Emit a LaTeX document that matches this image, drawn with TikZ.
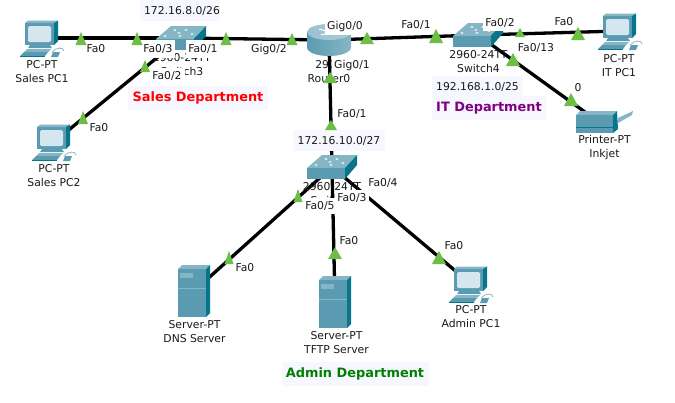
\documentclass[tikz,border=0pt]{standalone}
\usepackage{fontspec}
\setmainfont{DejaVu Sans}
\definecolor{cfront}{HTML}{5B9BB1}
\definecolor{ctop}{HTML}{86B6C6}
\definecolor{cside}{HTML}{07758C}
\definecolor{cscreen}{HTML}{D6E6EE}
\definecolor{cgreen}{HTML}{6DBE45}
\definecolor{cbox}{HTML}{F7F8FF}
\definecolor{citp}{HTML}{800080}
\definecolor{cadm}{HTML}{008000}
\definecolor{crtop}{HTML}{A9CBD7}
\definecolor{crmid}{HTML}{E6F0F4}
\tikzset{
  x=1pt,y=-1pt,
  link/.style={line width=3.3pt,black},
  devlabel/.style={font=\fontsize{10.8}{14}\selectfont,align=center,inner sep=0pt,text=black!90},
  portlabel/.style={font=\fontsize{10.8}{13}\selectfont,fill=white,inner xsep=2pt,inner ysep=0pt,minimum height=15.5pt,text=black!90},
  netlabel/.style={font=\fontsize{10.8}{13}\selectfont,text=black!90},
  deptlabel/.style={font=\bfseries\fontsize{12.9}{14}\selectfont},
  boxfill/.style={fill=cbox,draw=none},
  pcicon/.pic={
    \fill[ctop] (-17,-15)--(-14,-17.5)--(16,-17.5)--(12,-15)--cycle;
    \fill[cside] (12,-15)--(16,-17.5)--(16,3)--(12,7)--cycle;
    \fill[cfront] (-17,-15) rectangle (12,7);
    \fill[cscreen,rounded corners=1.5pt] (-14,-12) rectangle (9,4);
    \fill[cfront] (-12,7)--(8,7)--(10,10)--(-14,10)--cycle;
    \fill[ctop] (-15,11)--(9,11)--(6,14)--(-18,14)--cycle;
    \fill[cfront] (-18,14)--(6,14)--(3,18)--(-22,18)--cycle;
    \fill[cside] (-22,18) rectangle (3,19);
    \draw[ctop,line width=.8pt] (10,14) .. controls (14,9) and (22,9) .. (22,13);
    \fill[cfront] (11,14)--(18,14)--(16,19)--(9,19)--cycle;
  },
  servericon/.pic={
    \fill[ctop] (-16,-22)--(-12,-26)--(16,-26)--(12,-22)--cycle;
    \fill[cside] (12,-22)--(16,-26)--(16,22)--(12,26)--cycle;
    \fill[cfront] (-16,-22) rectangle (12,26);
    \fill[ctop] (-14,-18) rectangle (-1,-13);
    \draw[ctop,line width=.6pt] (-16,-3)--(12,-3);
  },
  printericon/.pic={
    \fill[ctop] (-27,-10)--(-23,-14)--(14,-14)--(10,-10)--cycle;
    \fill[cfront] (-27,-10) rectangle (10,8);
    \fill[cside] (10,-10)--(14,-14)--(15,4)--(10,8)--cycle;
    \fill[ctop] (15,-7)--(30,-14)--(29,-10)--(15,-2)--cycle;
    \draw[cside,line width=.5pt] (-27,2)--(10,2);
  },
  switchicon/.pic={
    \fill[ctop] (-25,1)--(-10,-12)--(25,-12)--(13,1)--cycle;
    \fill[cside] (13,1)--(25,-12)--(25,-2)--(13,12)--cycle;
    \fill[cfront] (-25,1) rectangle (13,12);
    \foreach \a/\b in {-16/-2,-6/-8,-1/-2,5/-8,11/-4,-2/-5}{\fill[white] (\a,\b) ellipse (1.6 and .8);}
  },
  routericon/.pic={
    \shade[left color=cfront,middle color=crmid,right color=ctop] (-22,-8) -- (-22,7) .. controls (-22,19) and (22,19) .. (22,7) -- (22,-8) -- cycle;
    \shade[left color=crtop!80!cfront,right color=crtop] (0,-8) ellipse (22 and 8);
    \draw[white,line width=1pt] (-10,-11)--(-3,-9) (-8,-5)--(0,-7) (3,-9)--(10,-11);
  }
}
\newcommand\porttri[4]{\fill[cgreen] (#1,#2)--(#1+#4/2,#3)--(#1-#4/2,#3)--cycle;}
\begin{document}
\begin{tikzpicture}
\useasboundingbox (0,0) rectangle (675,402);
% anchor points of the devices
\coordinate (pcA) at (42,38);
\coordinate (pcB) at (54,142);
\coordinate (swS) at (181,38);
\coordinate (rtr) at (329,40);
\coordinate (swI) at (478,35);
\coordinate (pcI) at (620,31);
\coordinate (prn) at (603,125);
\coordinate (swA) at (332,167);
\coordinate (srvD) at (194,291);
\coordinate (srvT) at (335,302);
\coordinate (pcD) at (471,284);
% connectors
\draw[link] (pcA)--(swS);
\draw[link] (pcB)--(swS);
\draw[link] (swS)--(rtr);
\draw[link] (rtr)--(swI);
\draw[link] (swI)--(pcI);
\draw[link] (swI)--(prn);
\draw[link] (rtr)--(swA);
\draw[link] (swA)--(srvD);
\draw[link] (swA)--(srvT);
\draw[link] (swA)--(pcD);
% devices
\path (pcA) pic {pcicon};
\path (pcB) pic {pcicon};
\path (pcI) pic {pcicon};
\path (pcD) pic {pcicon};
\path (swS) pic {switchicon};
\path (swI) pic {switchicon};
\path (swA) pic {switchicon};
\path (rtr) pic {routericon};
\path (prn) pic {printericon};
\path (srvD) pic {servericon};
\path (srvT) pic {servericon};
% device labels
\node[devlabel] (lpcA) at (42,72) {PC-PT\\Sales PC1};
\node[devlabel] (lpcB) at (54,176) {PC-PT\\Sales PC2};
\node[devlabel] (lswS) at (182,65) {2960-24TT\\Switch3};
\node[devlabel] (lrtr) at (329,71.5) {2911\\Router0};
\node[devlabel] (lswI) at (478.5,62) {2960-24TT\\Switch4};
\node[devlabel] (lpcI) at (619,66) {PC-PT\\IT PC1};
\node[devlabel] (lprn) at (604.5,148) {Printer-PT\\Inkjet};
\node[devlabel] (lswA) at (332,194) {2960-24TT\\Switch5};
\node[devlabel] (lsrvD) at (194.5,332) {Server-PT\\DNS Server};
\node[devlabel] (lsrvT) at (336.5,343) {Server-PT\\TFTP Server};
\node[devlabel] (lpcD) at (471,317) {PC-PT\\Admin PC1};
% subnet and department labels
\fill[boxfill] (140,0) rectangle (220,21);
\node[netlabel] (nS) at (182,11) {172.16.8.0/26};
\fill[boxfill] (432,76) rectangle (523,97);
\fill[boxfill] (432,96) rectangle (546,120);
\node[netlabel] (nI) at (477.5,87) {192.168.1.0/25};
\fill[boxfill] (293,130) rectangle (385,151);
\node[netlabel] (nA) at (339,140.5) {172.16.10.0/27};
\fill[boxfill] (128,86) rectangle (268,110);
\node[deptlabel,text=red] (dS) at (198,98) {Sales Department};
\node[deptlabel,text=citp] (dI) at (489,108) {IT Department};
\fill[boxfill] (282,362) rectangle (429,386);
\node[deptlabel,text=cadm] (dA) at (355,374) {Admin Department};
% port labels
\node[portlabel] (p1) at (96,49) {Fa0};
\node[portlabel,minimum height=18pt] (p2) at (158,49) {Fa0/3};
\node[portlabel,minimum height=18pt] (p3) at (203,49) {Fa0/1};
\node[portlabel] (p4) at (269,50) {Gig0/2};
\node[portlabel,inner xsep=3.5pt] (p5) at (167,76) {Fa0/2};
\node[portlabel] (p6) at (99,128) {Fa0};
\node[portlabel] (p7) at (345,27) {Gig0/0};
\node[portlabel] (p8) at (352,66) {Gig0/1};
\node[portlabel] (p9) at (352,114) {Fa0/1};
\node[portlabel] (p10) at (416,25) {Fa0/1};
\node[portlabel] (p11) at (500,23) {Fa0/2};
\node[portlabel] (p12) at (564,22) {Fa0};
\node[portlabel] (p13) at (536,48) {Fa0/13};
\node[portlabel] (p14) at (578,88) {0};
\node[portlabel] (p15) at (383,183) {Fa0/4};
\node[portlabel] (p16) at (352,198) {Fa0/3};
\node[portlabel] (p17) at (320,206) {Fa0/5};
\node[portlabel] (p18) at (349,241) {Fa0};
\node[portlabel] (p19) at (245,268) {Fa0};
\node[portlabel] (p20) at (454,246) {Fa0};
% link lights
\porttri{81}{32}{45}{11}
\porttri{137}{32}{45}{11}
\porttri{226}{32}{45}{11}
\porttri{292}{33}{45}{11}
\porttri{145}{60}{72}{10}
\porttri{83}{111}{124}{10}
\porttri{367}{32}{44}{14}
\porttri{436}{29}{43}{14}
\porttri{520}{28}{37}{10}
\porttri{578}{27}{40}{14}
\porttri{513}{53}{66}{14}
\porttri{571}{93}{106}{14}
\porttri{330}{72}{83}{14}
\porttri{331}{120}{130}{12}
\porttri{298}{189}{202}{9}
\porttri{229}{251}{264}{9}
\porttri{335}{247}{259}{14}
\porttri{439}{251}{264}{14}
\end{tikzpicture}
\end{document}
